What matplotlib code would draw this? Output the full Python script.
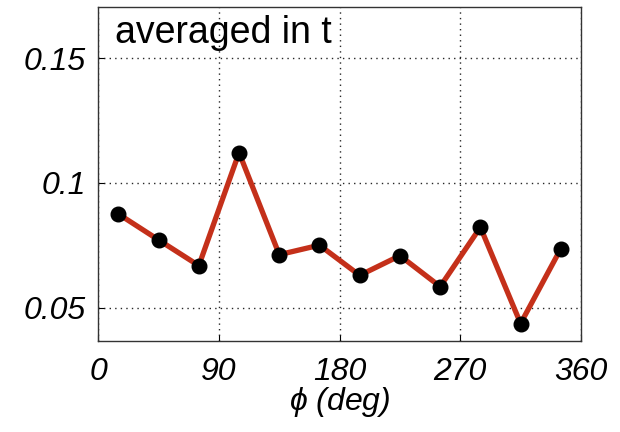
import matplotlib
matplotlib.use("Agg")
import matplotlib.pyplot as plt

# azimuth bins (deg) and values averaged in t
phi = [15, 45, 75, 105, 135, 165, 195, 225, 255, 285, 315, 345]
val = [0.0875, 0.0771, 0.0668, 0.1121, 0.0712, 0.0750,
       0.0629, 0.0708, 0.0584, 0.0822, 0.0436, 0.0736]

xticks = [0, 90, 180, 270, 360]
yticks = [0.05, 0.1, 0.15]
ytick_labels = ["0.05", "0.1", "0.15"]

plt.rcParams["font.family"] = ["Liberation Sans", "DejaVu Sans"]
plt.rcParams["mathtext.fontset"] = "custom"
plt.rcParams["mathtext.it"] = "Liberation Sans:italic"

fig = plt.figure(figsize=(6.2, 4.32), dpi=100)
ax = fig.add_axes([0.1585, 0.2113, 0.7785, 0.7732])

ax.plot(phi, val, "-", color="#c4301a", linewidth=3.8, zorder=3)
ax.plot(phi, val, "o", color="black", markersize=10.5, zorder=4)

ax.set_xlim(0, 360)
ax.set_ylim(0.0367, 0.1706)
ax.set_xticks(xticks)
ax.set_xticklabels([str(t) for t in xticks], fontsize=23, style="italic")
ax.set_yticks(yticks)
ax.set_yticklabels(ytick_labels, fontsize=23, style="italic")
ax.tick_params(direction="in", length=4, width=0.8)
ax.tick_params(axis="x", pad=12)
ax.tick_params(axis="y", pad=9)
ax.grid(True, linestyle=(0, (1, 3)), color="black", linewidth=1.0, alpha=0.85)
for s in ax.spines.values():
    s.set_linewidth(1.0)
    s.set_color("#333333")

ax.set_xlabel(r"$\phi$ (deg)", fontsize=23, style="italic", labelpad=-2)
ax.text(0.035, 0.975, "averaged in t", transform=ax.transAxes,
        fontsize=27, ha="left", va="top")

fig.savefig("out.png", dpi=100)
